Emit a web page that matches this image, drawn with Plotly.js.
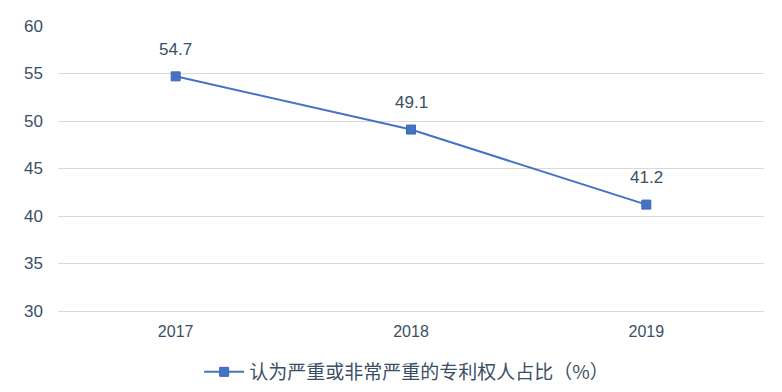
<!DOCTYPE html>
<html>
<head>
<meta charset="utf-8">
<script src="https://cdn.plot.ly/plotly-3.0.1.min.js"></script>
<style>html,body{margin:0;padding:0;background:#fff;}#chart{width:782px;height:392px;}</style>
</head>
<body>
<div id="chart"></div>
<script>
const years = ['2017', '2018', '2019'];
const shareValues = [54.7, 49.1, 41.2];
const seriesName = '认为严重或非常严重的专利权人占比（%）';
const yTicks = [30, 35, 40, 45, 50, 55, 60];

const textColor = '#3A4F66';
const fontFamily = 'Liberation Sans, Arial, "Noto Sans CJK SC", sans-serif';

const trace = {
  x: years,
  y: shareValues,
  name: seriesName,
  type: 'scatter',
  mode: 'lines+markers',
  line: {color: '#4472C4', width: 2},
  marker: {symbol: 'square', size: 9, color: '#4472C4', line: {color: '#3F69B5', width: 1}},
  cliponaxis: false
};

const annotations = years.map((yr, i) => ({
  xref: 'x', yref: 'y',
  x: i,
  y: shareValues[i],
  text: shareValues[i].toFixed(1),
  showarrow: false,
  yshift: 27,
  font: {size: 17, color: textColor, family: fontFamily}
}));

const layout = {
  width: 782,
  height: 392,
  margin: {l: 58, r: 18, t: 26, b: 81},
  paper_bgcolor: '#ffffff',
  plot_bgcolor: '#ffffff',
  font: {family: fontFamily, color: textColor, size: 16},
  showlegend: true,
  annotations: annotations,
  legend: {
    orientation: 'h',
    xref: 'container', yref: 'container',
    x: 0.52, xanchor: 'center',
    y: 0.051, yanchor: 'middle',
    itemwidth: 40,
    font: {size: 19, color: textColor, family: '"Noto Sans CJK SC", sans-serif'}
  },
  xaxis: {
    type: 'category',
    range: [-0.5, 2.5],
    showgrid: false,
    showline: true,
    linecolor: '#D9D9D9',
    linewidth: 1,
    ticks: '',
    ticklabelstandoff: 6,
    tickfont: {size: 16, color: textColor},
    zeroline: false
  },
  yaxis: {
    range: [30, 60],
    tickvals: yTicks,
    ticktext: yTicks.map(String),
    showgrid: true,
    gridcolor: '#D9D9D9',
    gridwidth: 1,
    showline: false,
    zeroline: false,
    ticks: '',
    ticklabelstandoff: 14,
    tickfont: {size: 17, color: textColor}
  }
};

Plotly.newPlot('chart', [trace], layout, {displayModeBar: false, staticPlot: true});
</script>
</body>
</html>
